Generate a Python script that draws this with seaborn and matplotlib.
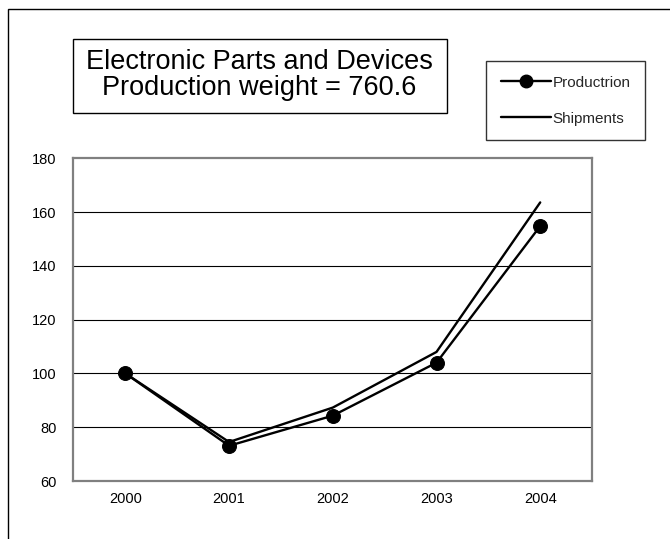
import matplotlib.pyplot as plt
import numpy as np
import pandas as pd
import seaborn as sns
from matplotlib.patches import Rectangle
from matplotlib.lines import Line2D

sns.set_theme(style="white")
plt.rcParams["font.family"] = ["Liberation Sans", "DejaVu Sans"]

years = ["2000", "2001", "2002", "2003", "2004"]
production = [100.0, 73.1, 84.3, 104.0, 154.8]
shipments = [100.0, 74.5, 87.3, 108.0, 163.6]

titulo = "Electronic Parts and Devices\nProduction weight = 760.6"

df = pd.DataFrame({
    "pos": np.arange(len(years)),
    "Productrion": production,
    "Shipments": shipments,
})

fig = plt.figure(figsize=(6.7, 5.39), dpi=100)
ax = fig.add_axes([0.1097, 0.1076, 0.774, 0.5987])

sns.lineplot(data=df, x="pos", y="Shipments", ax=ax, color="black",
             linewidth=1.7, legend=False)
sns.lineplot(data=df, x="pos", y="Productrion", ax=ax, color="black",
             linewidth=1.7, marker="o", markersize=10, markeredgecolor="black",
             legend=False)

ax.set_xlim(-0.5, len(years) - 0.5)
ax.set_ylim(60, 180)
ax.set_yticks(np.arange(60, 181, 20))
ax.set_xticks(df["pos"])
ax.set_xticklabels(years)
ax.set_xlabel("")
ax.set_ylabel("")
ax.tick_params(axis="both", labelsize=10.5, colors="black", length=0, pad=8)
ax.tick_params(axis="y", pad=12)
for y in range(80, 180, 20):
    ax.axhline(y, color="black", linewidth=0.8, zorder=0)
for s in ax.spines.values():
    s.set_color("#808080")
    s.set_linewidth(1.6)
ax.set_zorder(2)

# marco exterior
fig.patches.append(Rectangle((8 / 670, -0.1), 1.0, 1 - 9 / 539 + 0.1,
                             transform=fig.transFigure, fill=False,
                             edgecolor="black", linewidth=1.0))

# caja del titulo
fig.patches.append(Rectangle((72.6 / 670, 1 - 113.3 / 539), 374 / 670, 74 / 539,
                             transform=fig.transFigure, fill=False,
                             edgecolor="black", linewidth=1.0))
fig.text(259.6 / 670, 1 - 75.5 / 539, titulo, ha="center", va="center",
         fontsize=19.5, linespacing=1.0, color="black")

handles = [
    Line2D([], [], color="black", linewidth=1.7, marker="o", markersize=9),
    Line2D([], [], color="black", linewidth=1.7),
]
leg = fig.legend(handles, ["Productrion", "Shipments"], loc="upper left",
                 bbox_to_anchor=(486 / 670, 1 - 61 / 539), borderaxespad=0,
                 fontsize=11, frameon=True, fancybox=False, edgecolor="black",
                 handlelength=3.3, handletextpad=0.1, labelspacing=1.45,
                 borderpad=0.95)
leg.get_frame().set_linewidth(1.0)

plt.savefig("out.png", dpi=100)
plt.close(fig)
